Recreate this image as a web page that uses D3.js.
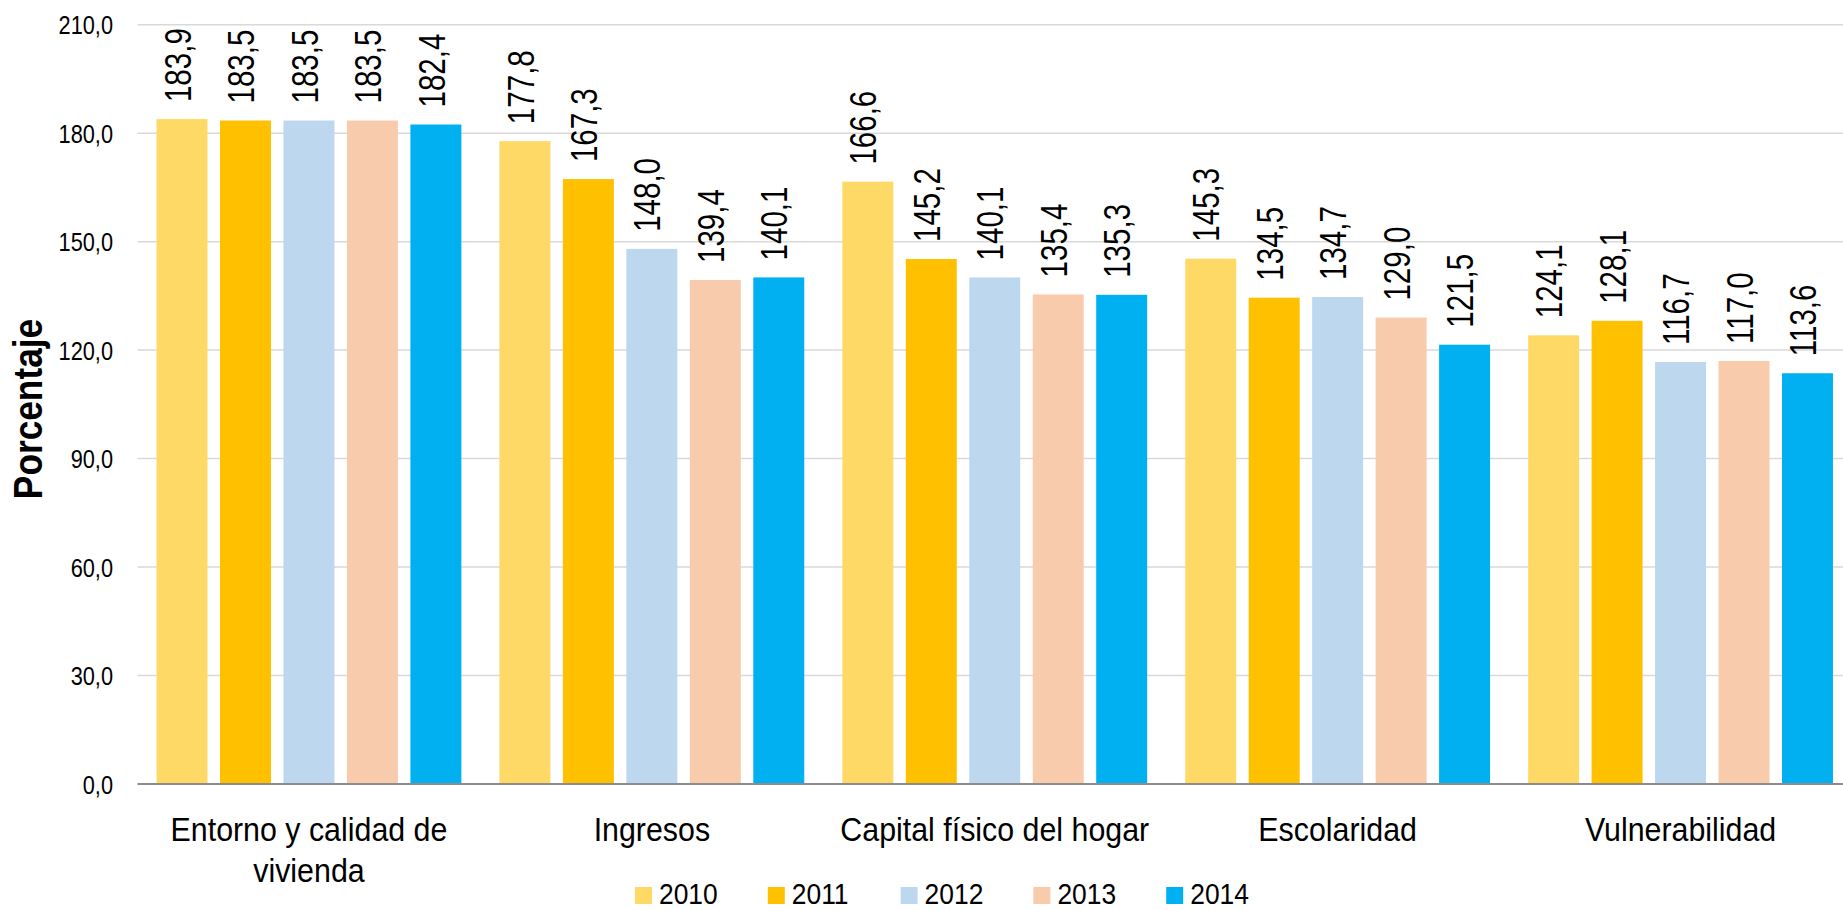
<!DOCTYPE html>
<html>
<head>
<meta charset="utf-8">
<script src="https://cdn.jsdelivr.net/npm/d3@7"></script>
<style>
  html, body { margin: 0; padding: 0; background: #fff; }
  svg text { font-family: "Liberation Sans Narrow", "Arial Narrow", "Liberation Sans", Arial, sans-serif; fill: #000; }
</style>
</head>
<body>
<div id="chart"></div>
<script>
const categories = ['Entorno y calidad de vivienda', 'Ingresos', 'Capital físico del hogar', 'Escolaridad', 'Vulnerabilidad'];
const years = ['2010', '2011', '2012', '2013', '2014'];
const values2010 = [183.9, 177.8, 166.6, 145.3, 124.1];
const values2011 = [183.5, 167.3, 145.2, 134.5, 128.1];
const values2012 = [183.5, 148.0, 140.1, 134.7, 116.7];
const values2013 = [183.5, 139.4, 135.4, 129.0, 117.0];
const values2014 = [182.4, 140.1, 135.3, 121.5, 113.6];
const yTicks = [0, 30, 60, 90, 120, 150, 180, 210];
const colors = ['#FFD966', '#FFC000', '#BDD7EE', '#F8CBAD', '#00B0F0'];

const series = [values2010, values2011, values2012, values2013, values2014];

const width = 1843;
const height = 910;
const plot = { left: 137.5, right: 1852, top: 24.7, bottom: 784 };

const locale = d3.formatLocale({ decimal: ',', thousands: '.', grouping: [3], currency: ['', ''] });
const fmt = locale.format('.1f');

const svg = d3.select('#chart')
    .append('svg')
    .attr('width', width)
    .attr('height', height);

// no narrow font installed, so squeeze the glyphs of a wide one
const narrow = (sel, squeeze) => {
    sel.each(function () {
        const len = this.getComputedTextLength();
        d3.select(this)
            .attr('textLength', len * squeeze)
            .attr('lengthAdjust', 'spacingAndGlyphs');
    });
};

const x0 = d3.scaleBand().domain(categories).range([plot.left, plot.right]);
const x1 = d3.scaleBand().domain(years).range([0, x0.bandwidth()]).paddingInner(0.197).paddingOuter(0.3);
const y = d3.scaleLinear().domain([0, 210]).range([plot.bottom, plot.top]);

// gridlines
svg.append('g')
    .selectAll('line')
    .data(yTicks.filter(d => d > 0))
    .join('line')
    .attr('x1', plot.left)
    .attr('x2', width)
    .attr('y1', d => y(d))
    .attr('y2', d => y(d))
    .style('stroke', '#d9d9d9')
    .style('stroke-width', 1.5);

// y axis labels
const yAxis = svg.append('g')
    .attr('transform', `translate(${plot.left},0)`)
    .call(d3.axisLeft(y).tickValues(yTicks).tickSize(0).tickPadding(24.5).tickFormat(fmt));
yAxis.select('.domain').remove();
yAxis.selectAll('text')
    .style('font-size', '25px')
    .attr('dy', '0.36em')
    .call(narrow, 0.87);

// bars
const groups = svg.append('g')
    .selectAll('g')
    .data(categories)
    .join('g')
    .attr('transform', d => `translate(${x0(d)},0)`);

groups.selectAll('rect')
    .data((d, i) => years.map((yr, j) => ({ year: yr, value: series[j][i], color: colors[j] })))
    .join('rect')
    .attr('x', d => x1(d.year))
    .attr('width', x1.bandwidth())
    .attr('y', d => y(d.value))
    .attr('height', d => y(0) - y(d.value))
    .style('fill', d => d.color);

groups.selectAll('text.val')
    .data((d, i) => years.map((yr, j) => ({ year: yr, value: series[j][i] })))
    .join('text')
    .attr('class', 'val')
    .attr('transform', d => `translate(${x1(d.year) + x1.bandwidth() / 2},${y(d.value) - 17}) rotate(-90)`)
    .attr('dy', '0.24em')
    .style('font-size', '36px')
    .style('text-anchor', 'start')
    .text(d => fmt(d.value))
    .call(narrow, 0.82);

// baseline
svg.append('line')
    .attr('x1', plot.left)
    .attr('x2', width)
    .attr('y1', y(0))
    .attr('y2', y(0))
    .style('stroke', '#8c8c8c')
    .style('stroke-width', 2);

// x axis labels: split into lines that fit the band
const labelSqueeze = 0.92;
const measure = svg.append('text').style('font-size', '33px');
const splitLines = (label, maxWidth) => {
    const words = label.split(' ');
    const lines = [];
    let line = [];
    words.forEach(w => {
        line.push(w);
        measure.text(line.join(' '));
        if (measure.node().getComputedTextLength() * labelSqueeze > maxWidth && line.length > 1) {
            line.pop();
            lines.push(line.join(' '));
            line = [w];
        }
    });
    lines.push(line.join(' '));
    return lines;
};

const xLabels = svg.append('g')
    .selectAll('g')
    .data(categories)
    .join('g')
    .attr('transform', d => `translate(${x0(d) + x0.bandwidth() / 2},0)`);

xLabels.selectAll('text')
    .data(d => splitLines(d, 330))
    .join('text')
    .attr('y', (d, i) => 841 + i * 41)
    .style('font-size', '33px')
    .style('text-anchor', 'middle')
    .text(d => d)
    .call(narrow, labelSqueeze);
measure.remove();

// y axis title
svg.append('text')
    .attr('transform', 'translate(42,409) rotate(-90)')
    .style('font-size', '41px')
    .style('font-weight', 'bold')
    .style('text-anchor', 'middle')
    .text('Porcentaje')
    .call(narrow, 0.86);

// legend
const legend = svg.append('g')
    .selectAll('g')
    .data(years)
    .join('g')
    .attr('transform', (d, i) => `translate(${635 + i * 132.8},887)`);

legend.append('rect')
    .attr('width', 17)
    .attr('height', 17)
    .style('fill', (d, i) => colors[i]);

legend.append('text')
    .attr('x', 24)
    .attr('y', 17)
    .style('font-size', '29px')
    .text(d => d)
    .call(narrow, 0.91);
</script>
</body>
</html>
